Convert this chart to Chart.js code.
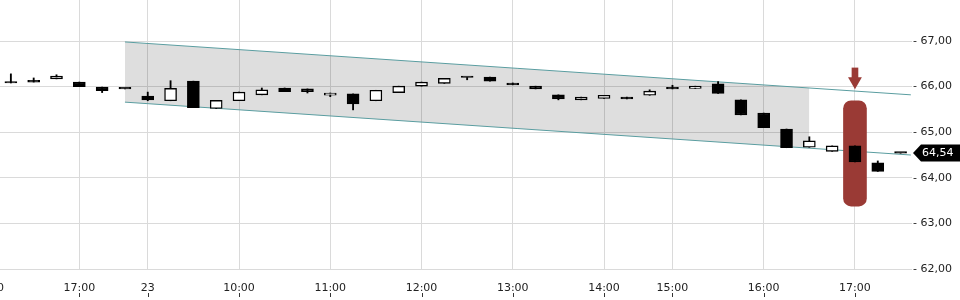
<!DOCTYPE html>
<html>
<head>
<meta charset="utf-8">
<script src="https://cdn.jsdelivr.net/npm/chart.js@4.4.1/dist/chart.umd.min.js"></script>
<style>
  html, body { margin:0; padding:0; background:#fff; overflow:hidden; }
  #wrap { position:relative; width:960px; height:300px; overflow:hidden; }
  #chart { position:absolute; left:-40px; top:0; }
</style>
</head>
<body>
<div id="wrap"><canvas id="chart" width="1000" height="300"></canvas></div>
<script>
// 15 minute candles, index 0 = first visible candle
const opens  = [66.08,66.14,66.17,66.10,65.99,65.95,65.79,65.69,66.12,65.52,65.69,65.82,65.97,65.95,65.81,65.84,65.69,65.87,66.01,66.07,66.20,66.21,66.08,66.01,65.82,65.71,65.74,65.77,65.81,65.95,65.96,66.06,65.71,65.42,65.07,64.67,64.58,64.70,64.33,64.54];
const highs  = [66.28,66.19,66.26,66.10,65.99,65.95,65.88,66.13,66.12,65.70,65.88,65.97,65.97,65.95,65.86,65.84,65.92,66.01,66.10,66.18,66.20,66.21,66.08,66.01,65.82,65.77,65.81,65.77,65.93,66.03,66.01,66.11,65.71,65.42,65.07,64.90,64.70,64.70,64.37,64.54];
const lows   = [66.08,66.10,66.17,66.00,65.87,65.95,65.69,65.69,65.54,65.52,65.69,65.82,65.89,65.86,65.78,65.49,65.69,65.87,66.01,66.07,66.15,66.12,66.04,65.95,65.71,65.71,65.74,65.73,65.81,65.95,65.96,65.85,65.38,65.10,64.66,64.67,64.58,64.35,64.14,64.54];
const closes = [66.08,66.10,66.23,66.00,65.91,65.95,65.71,65.96,65.54,65.70,65.88,65.93,65.89,65.89,65.86,65.62,65.92,66.01,66.10,66.18,66.20,66.12,66.04,65.95,65.73,65.77,65.81,65.73,65.90,65.95,66.01,65.85,65.38,65.10,64.66,64.81,64.70,64.35,64.14,64.54];

const tickIndex  = [-1, 3, 6, 10, 14, 18, 22, 26, 29, 33, 37];
const tickLabels = ['16:00','17:00','23','10:00','11:00','12:00','13:00','14:00','15:00','16:00','17:00'];
const priceTicks = [62, 63, 64, 65, 66, 67];

// trend channel
const channelX      = [5, 39.45];
const channelTop    = [66.98, 65.82];
const channelBottom = [65.66, 64.50];
const shadeX        = [5, 35];
const shadeTop      = [66.98, 65.97];
const shadeBottom   = [65.66, 64.65];

// signal marker
const signalIndex = 37;
const signalRange = [63.38, 65.69];
const arrowShaft  = [66.16, 66.41];
const arrowHead   = 66.12;
const lastPrice   = 64.54;

const fmt = v => v.toFixed(2).replace('.', ',');
const idx = opens.map((_, i) => i);
const teal = '#5a9da0';
const red = '#9a3a35';

const priceTag = {
  id: 'priceTag',
  afterDraw(chart) {
    const c = chart.ctx;
    const y = Math.round(chart.scales.y.getPixelForValue(lastPrice));
    const x0 = chart.chartArea.right + 1;
    c.save();
    c.fillStyle = '#000';
    c.beginPath();
    c.moveTo(x0, y);
    c.lineTo(x0 + 8, y - 8.5);
    c.lineTo(chart.width, y - 8.5);
    c.lineTo(chart.width, y + 8.5);
    c.lineTo(x0 + 8, y + 8.5);
    c.closePath();
    c.fill();
    c.fillStyle = '#fff';
    c.font = '11px "DejaVu Sans"';
    c.textBaseline = 'middle';
    c.fillText(fmt(lastPrice), x0 + 9, y + 0.5);

    const xs = chart.scales.x;
    c.strokeStyle = '#333';
    c.lineWidth = 1;
    tickIndex.forEach(t => {
      const px = Math.round(xs.getPixelForValue(t)) + 0.5;
      c.beginPath(); c.moveTo(px, 293); c.lineTo(px, 297); c.stroke();
    });
    c.restore();
  }
};

const noPad = s => { s.paddingLeft = 0; s.paddingRight = 0; s.paddingTop = 0; s.paddingBottom = 0; };

new Chart(document.getElementById('chart'), {
  type: 'bar',
  data: {
    datasets: [
      {
        type: 'line', order: 10,
        data: shadeX.map((x, i) => ({ x, y: shadeTop[i] })),
        borderWidth: 0, pointRadius: 0,
        fill: '+1', backgroundColor: 'rgba(0,0,0,0.13)'
      },
      {
        type: 'line', order: 10,
        data: shadeX.map((x, i) => ({ x, y: shadeBottom[i] })),
        borderWidth: 0, pointRadius: 0, fill: false
      },
      {
        type: 'line', order: 9,
        data: channelX.map((x, i) => ({ x, y: channelTop[i] })),
        borderColor: teal, borderWidth: 1, pointRadius: 0, fill: false
      },
      {
        type: 'line', order: 9,
        data: channelX.map((x, i) => ({ x, y: channelBottom[i] })),
        borderColor: teal, borderWidth: 1, pointRadius: 0, fill: false
      },
      {
        order: 8,
        data: [{ x: signalIndex, y: signalRange }],
        backgroundColor: red, barThickness: 23,
        borderRadius: 8, borderSkipped: false, grouped: false
      },
      {
        order: 8,
        data: [{ x: signalIndex, y: arrowShaft }],
        backgroundColor: red, barThickness: 6, grouped: false
      },
      {
        type: 'line', order: 8,
        data: [{ x: signalIndex, y: arrowHead }],
        showLine: false, pointStyle: 'triangle', rotation: 180,
        pointRadius: 8, backgroundColor: red, borderColor: red, borderWidth: 0
      },
      {
        order: 2,
        data: idx.map(i => ({ x: i, y: [lows[i], highs[i]] })),
        backgroundColor: '#000', barThickness: 1.2, grouped: false, minBarLength: 0
      },
      {
        order: 1,
        data: idx.map(i => ({ x: i, y: [opens[i], closes[i]] })),
        backgroundColor: ctx => closes[ctx.dataIndex] > opens[ctx.dataIndex] ? '#fff' : '#000',
        borderColor: '#000', borderWidth: 1.4, borderSkipped: false,
        barThickness: 12, minBarLength: 1.5, grouped: false
      }
    ]
  },
  options: {
    responsive: false,
    animation: false,
    devicePixelRatio: 1,
    layout: { padding: 0, autoPadding: false },
    plugins: { legend: { display: false }, tooltip: { enabled: false } },
    scales: {
      x: {
        type: 'linear', offset: false,
        min: -2.23, max: 39.5,
        afterBuildTicks: s => { s.ticks = tickIndex.map(v => ({ value: v })); },
        afterFit: s => { s.height = 31; noPad(s); },
        border: { display: false },
        grid: { color: '#dadada', drawTicks: false, offset: false },
        ticks: {
          autoSkip: false, maxRotation: 0, padding: 13,
          color: '#222', font: { family: 'DejaVu Sans', size: 11 },
          callback: v => tickLabels[tickIndex.indexOf(v)]
        }
      },
      y: {
        position: 'right',
        min: 62, max: 67.9,
        afterBuildTicks: s => { s.ticks = priceTicks.map(v => ({ value: v })); },
        afterFit: s => { s.width = 48; noPad(s); },
        border: { display: false },
        grid: { color: '#dadada', drawTicks: false },
        ticks: {
          padding: 1, color: '#222',
          font: { family: 'DejaVu Sans', size: 11 },
          callback: v => '- ' + fmt(v)
        }
      }
    }
  },
  plugins: [priceTag]
});
</script>
</body>
</html>
